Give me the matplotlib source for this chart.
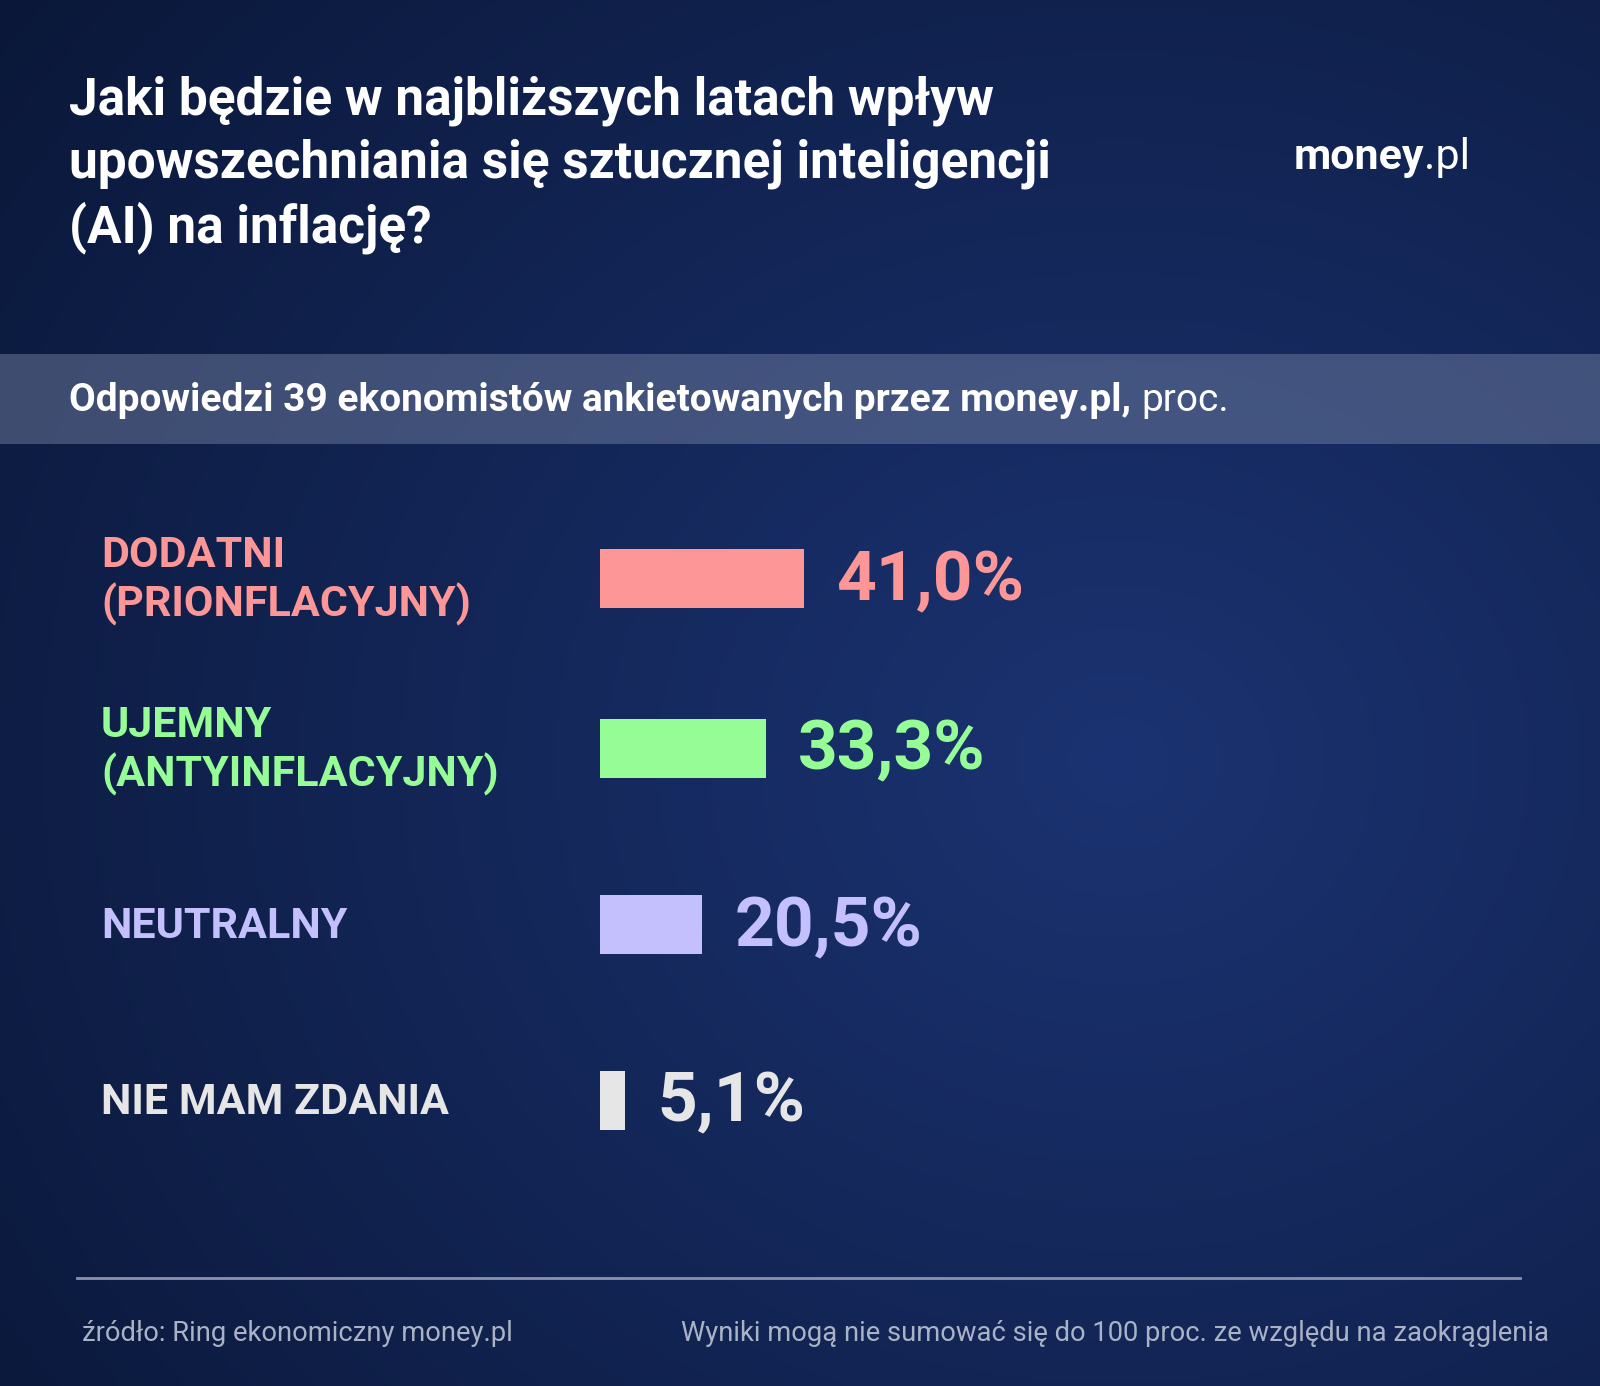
import numpy as np
import matplotlib
matplotlib.use("Agg")
import matplotlib.pyplot as plt

categories = ["DODATNI\n(PRIONFLACYJNY)", "UJEMNY\n(ANTYINFLACYJNY)", "NEUTRALNY", "NIE MAM ZDANIA"]
values = [41.0, 33.3, 20.5, 5.1]
value_labels = ["41,0%", "33,3%", "20,5%", "5,1%"]
colors = ["#fd9696", "#96fd96", "#c3c0fd", "#e6e6e6"]

W, H = 1568, 1358
fig = plt.figure(figsize=(16, 13.86), dpi=100)
FONT = ["Roboto", "DejaVu Sans"]

def fx(x): return x / W
def fy(y): return 1 - y / H

# background
bg = fig.add_axes([0, 0, 1, 1])
yy, xx = np.mgrid[0:1:300j, 0:1:300j]
r = np.sqrt((xx - 0.7) ** 2 + (yy - 0.55) ** 2)
t = np.clip(1 - r / 0.9, 0, 1)
c0 = np.array([0x0a, 0x17, 0x38]) / 255
c1 = np.array([0x1b, 0x33, 0x72]) / 255
img = c0[None, None, :] * (1 - t[..., None]) + c1[None, None, :] * t[..., None]
bg.imshow(img, extent=[0, 1, 0, 1], aspect="auto", origin="upper")
bg.set_xlim(0, 1); bg.set_ylim(0, 1); bg.axis("off")
bg.add_patch(plt.Rectangle((0, fy(435)), 1, (435 - 347) / H, color="#7b88a8", alpha=0.45, lw=0))
bg.plot([fx(75), fx(1490)], [fy(1252)] * 2, color="#8a93ab", lw=2)

fig.text(fx(68), fy(74), "Jaki będzie w najbliższych latach wpływ\nupowszechniania się sztucznej inteligencji\n(AI) na inflację?",
         color="white", fontsize=37, fontweight="bold", family=FONT, va="top", linespacing=1.31)
t1 = bg.text(fx(1268), fy(166), "money", color="white", fontsize=31, fontweight="bold", family=FONT,
             va="baseline", transform=fig.transFigure)
bg.annotate(".pl", xy=(1.0, 0.0), xycoords=t1, color="white", fontsize=31, family=FONT, va="bottom", ha="left")
t2 = bg.text(fx(68), fy(403), "Odpowiedzi 39 ekonomistów ankietowanych przez money.pl, ", color="white",
             fontsize=28, fontweight="bold", family=FONT, va="baseline", transform=fig.transFigure)
bg.annotate("proc.", xy=(1.0, 0.0), xycoords=t2, color="white", fontsize=28, family=FONT, va="bottom", ha="left")
fig.text(fx(80), fy(1307), "źródło: Ring ekonomiczny money.pl", color="#aab2c6", fontsize=19.7, family=FONT, va="center")
fig.text(fx(1518), fy(1307), "Wyniki mogą nie sumować się do 100 proc. ze względu na zaokrąglenia", color="#aab2c6",
         fontsize=19.7, family=FONT, va="center", ha="right")

# bars
ypos = [567, 733, 906, 1078]
ax = fig.add_axes([fx(588), fy(1200), (W - 588) / W, 800 / H])
ax.set_xlim(0, (W - 588) / 4.88)
ax.set_ylim(1200, 400)
ax.axis("off")
ax.barh(ypos, values, height=58, color=colors)
for y, v, lab, c, cat in zip(ypos, values, value_labels, colors, categories):
    ax.text(v + 6.5, y + 3, lab, color=c, fontsize=50, fontweight="bold", family=FONT, va="center")
    fig.text(fx(99), fy(y + 2), cat, color=c, fontsize=31, fontweight="bold", family=FONT, va="center", linespacing=1.2)

fig.savefig("out.png", dpi=100)
